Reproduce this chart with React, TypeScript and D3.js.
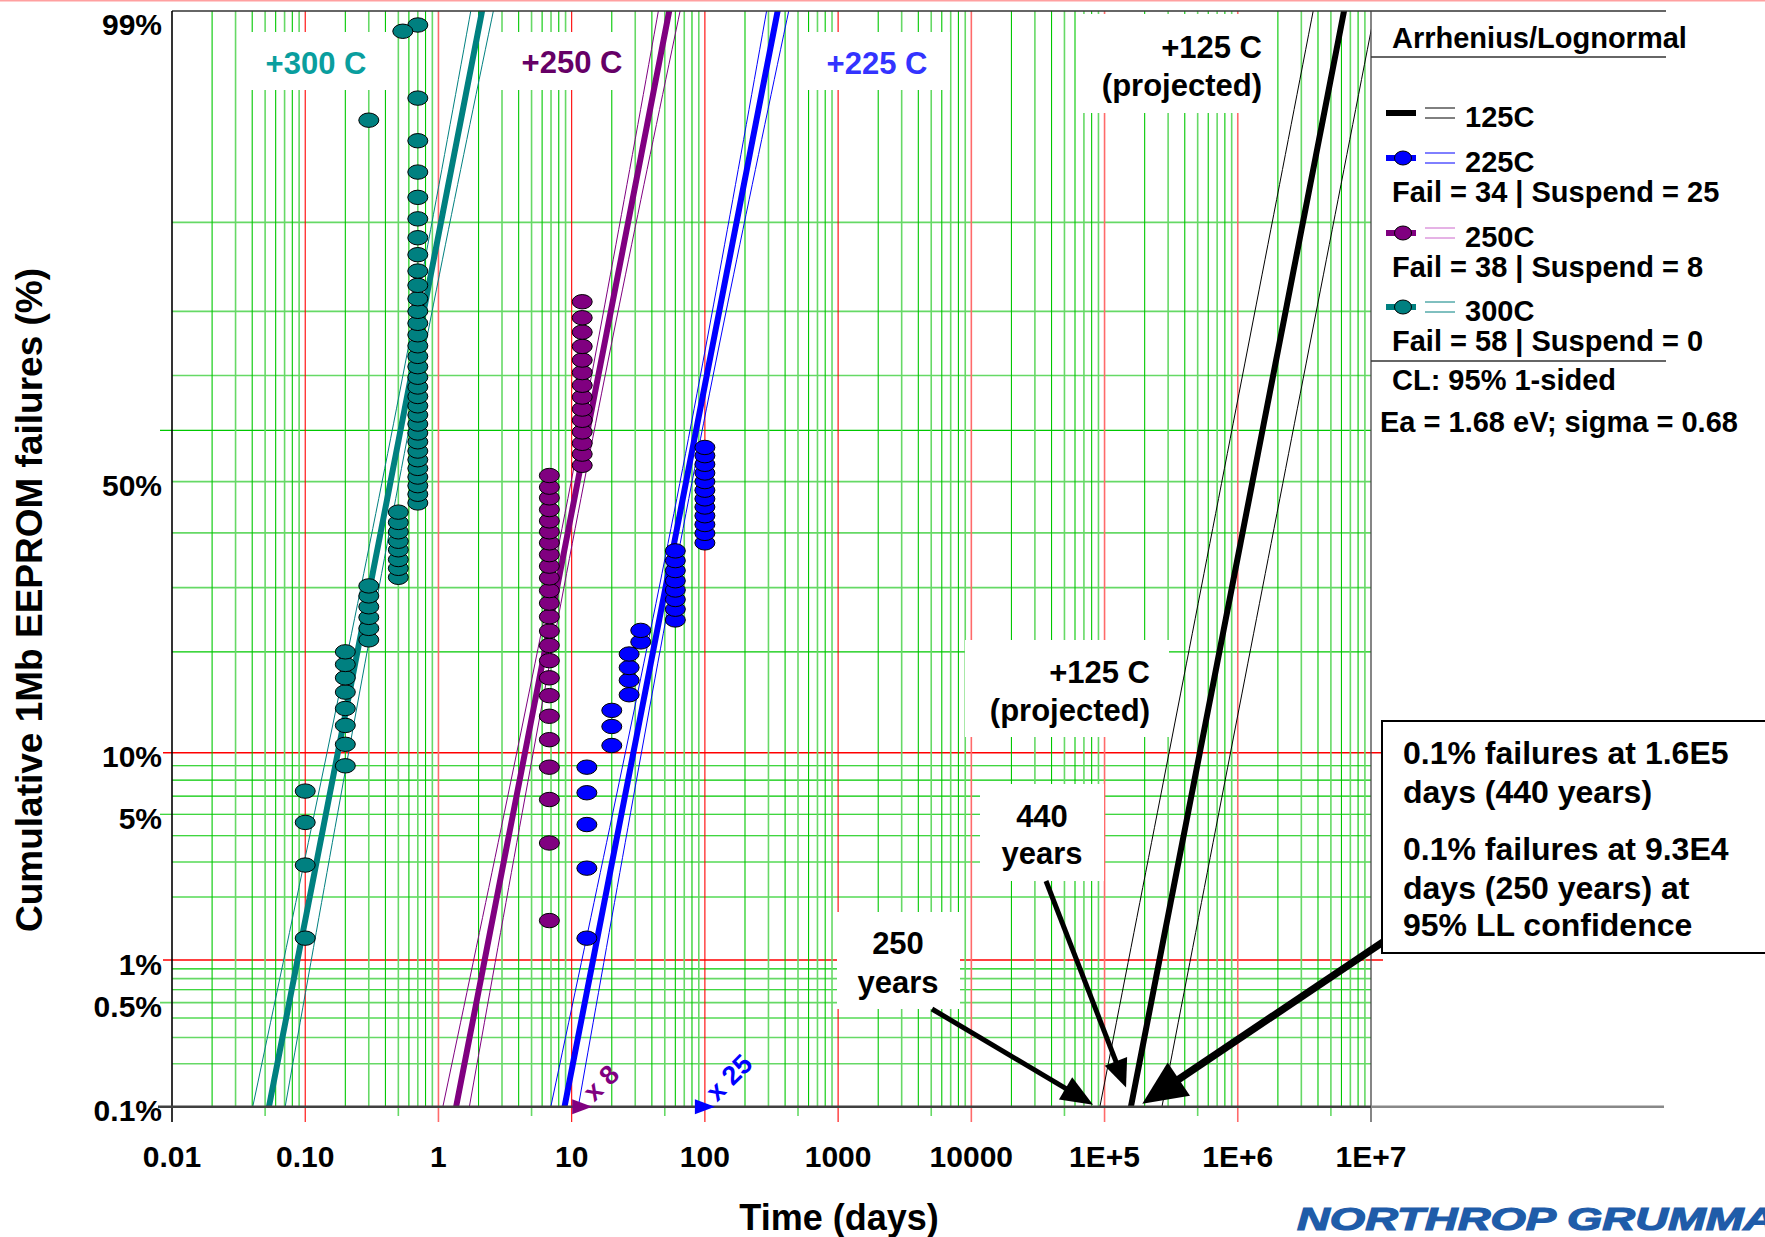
import React from 'react'
import * as d3 from 'd3'

const FONT = 'Arial, "Liberation Sans", Helvetica, sans-serif'

// axis ticks
const xTickValues = [0.01, 0.1, 1, 10, 100, 1000, 10000, 1e5, 1e6, 1e7]
const xTickLabels = ['0.01', '0.10', '1', '10', '100', '1000', '10000', '1E+5', '1E+6', '1E+7']
// on this paper the "10%" and "1%" labels sit on the red rules, which fall at 9% and 0.9%
const yTickValues = [99, 50, 9, 5, 0.9, 0.5, 0.1]
const yTickLabels = ['99%', '50%', '10%', '5%', '1%', '0.5%', '0.1%']
const gridBright = [60, 20, 8, 7, 6, 5, 4, 3, 2, 0.8, 0.6, 0.4]
const gridLight = [90, 80, 70, 50, 40, 30, 0.7, 0.5, 0.3, 0.2]
const gridRed = [9, 0.9]
const gridLong = [60, 9, 5, 0.9, 0.5]

// failures: [days, cumulative % failed]
const pts300: [number, number][] = [
  [0.1, 1.2], [0.1, 2.9], [0.1, 4.6], [0.1, 6.3],
  [0.2, 8.0], [0.2, 9.7], [0.2, 11.4], [0.2, 13.1], [0.2, 14.9], [0.2, 16.6], [0.2, 18.3], [0.2, 20.0],
  [0.3, 21.7], [0.3, 23.4], [0.3, 25.1], [0.3, 26.8], [0.3, 28.6], [0.3, 30.3],
  [0.5, 31.8], [0.5, 33.4], [0.5, 35.0], [0.5, 36.8], [0.5, 38.4], [0.5, 40.2], [0.5, 42.0], [0.5, 44.0],
  [0.7, 45.8], [0.7, 47.5], [0.7, 49.2], [0.7, 50.9], [0.7, 52.6], [0.7, 54.3], [0.7, 56.0], [0.7, 57.8],
  [0.7, 59.5], [0.7, 61.2], [0.7, 62.9], [0.7, 64.6], [0.7, 66.3], [0.7, 68.0], [0.7, 69.7], [0.7, 71.5],
  [0.7, 73.2], [0.7, 74.9], [0.7, 76.6], [0.7, 78.3], [0.7, 80.0], [0.7, 81.7], [0.7, 83.4], [0.7, 85.1],
  [0.7, 86.9], [0.7, 88.6], [0.7, 90.3], [0.7, 92.0], [0.7, 93.7], [0.7, 95.4], [0.7, 97.1], [0.7, 98.8],
  [0.3, 96.3], [0.54, 98.7],
]
const pts250: [number, number][] = [
  [6.8, 1.5], [6.8, 3.7], [6.8, 5.8], [6.8, 7.9], [6.8, 10.1], [6.8, 12.3], [6.8, 14.5], [6.8, 16.6],
  [6.8, 18.8], [6.8, 20.9], [6.8, 23.0], [6.8, 25.2], [6.8, 27.4], [6.8, 29.5], [6.8, 31.7], [6.8, 33.8],
  [6.8, 35.9], [6.8, 38.1], [6.8, 40.2], [6.8, 42.3], [6.8, 44.5], [6.8, 46.8], [6.8, 48.9], [6.8, 51.2],
  [12, 53.2], [12, 55.4], [12, 57.5], [12, 59.7], [12, 61.9], [12, 64.0], [12, 66.2], [12, 68.3],
  [12, 70.5], [12, 72.6], [12, 74.8], [12, 77.0], [12, 79.1], [12, 81.3],
]
const pts225: [number, number][] = [
  [13, 1.2], [13, 2.8], [13, 4.5], [13, 6.2], [13, 7.9],
  [20, 9.6], [20, 11.3], [20, 12.9],
  [27, 14.6], [27, 16.3], [27, 17.9], [27, 19.7],
  [33, 21.4], [33, 23.1],
  [60, 24.7], [60, 26.4], [60, 28.0], [60, 29.6], [60, 31.2], [60, 33.0], [60, 34.8], [60, 36.6],
  [100, 38.1], [100, 39.9], [100, 41.6], [100, 43.3], [100, 45.0], [100, 46.6], [100, 48.3], [100, 50.0],
  [100, 51.7], [100, 53.4], [100, 55.1], [100, 56.7],
]

// suspended units (days, label)
const suspDays = [12, 100]
const suspLabels = ['x 8', 'x 25']
const suspColors = ['#800080', '#0000ff']

// lognormal fits: median life (days), sigma (ln), 95% band half-width (decades)
const fitTemps = ['125C', '225C', '250C', '300C']
const fitMedian = [1.29e6, 72.3, 11.1, 0.437]
const fitSigma = 0.68
const bandHalf = [0.23, 0.045, 0.049, 0.062]
const bandGrow = [0.012, 0.03, 0.028, 0.03]
const bandCentre = [0, 0, 0, 0.4]
const fitColor = ['#000000', '#0000ff', '#800080', '#008080']
const legendBand = ['#000000', '#0000ff', '#cc66cc', '#008080']
const legendCounts = ['', 'Fail = 34 | Suspend = 25', 'Fail = 38 | Suspend = 8', 'Fail = 58 | Suspend = 0']

const noteLines = ['0.1% failures at 1.6E5', 'days (440 years)', '0.1% failures at 9.3E4', 'days (250 years) at', '95% LL confidence']

// inverse normal CDF (Acklam)
function probit(p: number) {
  const a = [-39.69683028665376, 220.9460984245205, -275.9285104469687, 138.357751867269, -30.66479806614716, 2.506628277459239]
  const b = [-54.47609879822406, 161.5858368580409, -155.6989798598866, 66.80131188771972, -13.28068155288572]
  const c = [-0.007784894002430293, -0.3223964580411365, -2.400758277161838, -2.549732539343734, 4.374664141464968, 2.938163982698783]
  const d = [0.007784695709041462, 0.3224671290700398, 2.445134137142996, 3.754408661907416]
  const lo = 0.02425
  if (p < lo) {
    const q = Math.sqrt(-2 * Math.log(p))
    return (((((c[0] * q + c[1]) * q + c[2]) * q + c[3]) * q + c[4]) * q + c[5]) / ((((d[0] * q + d[1]) * q + d[2]) * q + d[3]) * q + 1)
  }
  if (p > 1 - lo) {
    const q = Math.sqrt(-2 * Math.log(1 - p))
    return -(((((c[0] * q + c[1]) * q + c[2]) * q + c[3]) * q + c[4]) * q + c[5]) / ((((d[0] * q + d[1]) * q + d[2]) * q + d[3]) * q + 1)
  }
  const q = p - 0.5
  const r = q * q
  return ((((((a[0] * r + a[1]) * r + a[2]) * r + a[3]) * r + a[4]) * r + a[5]) * q) / (((((b[0] * r + b[1]) * r + b[2]) * r + b[3]) * r + b[4]) * r + 1)
}

const W = 1765
const H = 1237
const plot = { left: 172, right: 1371, top: 11, bottom: 1106.7 }

const x = d3.scaleLog().domain([0.01, 1e7]).range([plot.left, plot.right])
const zy = d3.scaleLinear().domain([probit(0.001), probit(0.99)]).range([plot.bottom, plot.top])
const y = (pct: number) => zy(probit(pct / 100))

const line = d3
  .line<[number, number]>()
  .x((d) => x(d[0]))
  .y((d) => zy(d[1]))

const zLo = probit(0.001) - 0.1
const zHi = probit(0.99) + 0.4
const zSteps = d3.range(0, 81).map((i) => zLo + ((zHi - zLo) * i) / 80)

const fitPath = (k: number, side: number) =>
  line(
    zSteps.map((z) => {
      const centre = Math.log10(fitMedian[k]) + (z * fitSigma) / Math.LN10
      const hw = Math.sqrt(bandHalf[k] ** 2 + (bandGrow[k] * (z - bandCentre[k])) ** 2)
      return [10 ** (centre + side * hw), z] as [number, number]
    })
  )

// vertical grid: 1..9 per decade
const vGrid = d3.range(-2, 7).flatMap((e) => d3.range(1, 10).map((m) => ({ v: m * 10 ** e, m })))

const Arrow = ({ x1, y1, x2, y2, w, hl, hw }) => {
  const a = Math.atan2(y2 - y1, x2 - x1)
  const bx = x2 - hl * Math.cos(a)
  const by = y2 - hl * Math.sin(a)
  const px = (-Math.sin(a) * hw) / 2
  const py = (Math.cos(a) * hw) / 2
  return (
    <g>
      <line x1={x1} y1={y1} x2={bx + Math.cos(a) * 2} y2={by + Math.sin(a) * 2} stroke='#000' strokeWidth={w} />
      <polygon points={`${x2},${y2} ${bx + px},${by + py} ${bx - px},${by - py}`} fill='#000' />
    </g>
  )
}

const series = [
  { pts: pts225, color: '#0000ff' },
  { pts: pts250, color: '#800080' },
  { pts: pts300, color: '#008080' },
]

const labelBoxes = [
  { x: 244, y: 32, w: 151, h: 58 },
  { x: 495, y: 32, w: 133, h: 58 },
  { x: 800, y: 32, w: 150, h: 58 },
  { x: 1078, y: 14, w: 194, h: 99 },
  { x: 965, y: 640, w: 204, h: 97 },
  { x: 980, y: 784, w: 124, h: 97 },
  { x: 837, y: 912, w: 123, h: 97 },
]

export default function App() {
  const legendY = [113, 158, 233, 307]
  const bold = { fontFamily: FONT, fontWeight: 700 }
  return (
    <svg width={W} height={H} style={{ position: 'absolute', left: 0, top: 0, display: 'block', background: '#fff' }}>
      <rect width={W} height={H} fill='#fff' />
      <rect x={0} y={0} width={W} height={1.5} fill='#ffa0a0' />
      <defs>
        <clipPath id='plotClip'>
          <rect x={plot.left} y={plot.top} width={plot.right - plot.left} height={plot.bottom - plot.top} />
        </clipPath>
      </defs>

      {/* horizontal grid */}
      {gridLight.map((p) => (
        <line key={'hl' + p} x1={gridLong.includes(p) ? 160 : plot.left} x2={plot.right} y1={y(p)} y2={y(p)} stroke='#66d966' strokeWidth={1.6} />
      ))}
      {gridBright.map((p) => (
        <line key={'hb' + p} x1={gridLong.includes(p) ? 160 : plot.left} x2={plot.right} y1={y(p)} y2={y(p)} stroke='#00c800' strokeWidth={1.1} />
      ))}
      {gridRed.map((p) => (
        <line key={'hr' + p} x1={163} x2={1383} y1={y(p)} y2={y(p)} stroke='#ff0000' strokeWidth={1.5} />
      ))}

      {/* vertical grid */}
      {vGrid.map(({ v, m }) =>
        m === 1 ? null : (
          <line
            key={'v' + v}
            x1={x(v)}
            x2={x(v)}
            y1={plot.top}
            y2={m === 5 ? 1116 : plot.bottom}
            stroke={m % 2 === 0 ? '#00c800' : '#66d966'}
            strokeWidth={m % 2 === 0 ? 1.1 : 1.6}
          />
        )
      )}
      {xTickValues.slice(1, -1).map((v, i) => (
        <line
          key={'vr' + v}
          x1={x(v)}
          x2={x(v)}
          y1={plot.top}
          y2={1122}
          stroke={[0, 2, 3, 4].includes(i) ? '#ff0000' : '#ff6a6a'}
          strokeWidth={[0, 2, 3, 4].includes(i) ? 1.1 : 1.6}
        />
      ))}

      {/* white label boxes over the grid */}
      {labelBoxes.map((b, i) => (
        <rect key={'lb' + i} x={b.x} y={b.y} width={b.w} height={b.h} fill='#fff' />
      ))}

      {/* fitted lines with confidence bands */}
      <g clipPath='url(#plotClip)'>
        {fitTemps.map((t, k) => (
          <g key={t}>
            <path d={fitPath(k, -1)} fill='none' stroke={fitColor[k]} strokeWidth={1} />
            <path d={fitPath(k, 1)} fill='none' stroke={fitColor[k]} strokeWidth={1} />
            <path d={fitPath(k, 0)} fill='none' stroke={fitColor[k]} strokeWidth={6} />
          </g>
        ))}
      </g>

      {/* failure points */}
      {series.map((s, si) => (
        <g key={si}>
          {s.pts.map(([t, p], i) => (
            <ellipse key={i} cx={x(t)} cy={y(p)} rx={10} ry={7.2} fill={s.color} stroke='#000' strokeWidth={1} />
          ))}
        </g>
      ))}

      {/* frame */}
      <line x1={plot.left} x2={1666} y1={plot.top} y2={plot.top} stroke='#333' strokeWidth={1.5} />
      <line x1={plot.left} x2={plot.left} y1={plot.top} y2={1122} stroke='#000' strokeWidth={1.6} />
      <line x1={plot.right} x2={plot.right} y1={plot.top} y2={1122} stroke='#444' strokeWidth={1.3} />
      <line x1={158} x2={plot.right} y1={plot.bottom} y2={plot.bottom} stroke='#404040' strokeWidth={2.6} />
      <line x1={plot.right} x2={1664} y1={plot.bottom} y2={plot.bottom} stroke='#888' strokeWidth={2.6} />

      {/* suspensions */}
      {suspDays.map((d, i) => {
        const cx = x(d)
        const cy = plot.bottom
        return (
          <g key={'s' + i}>
            <polygon points={`${cx - 10},${cy - 7.5} ${cx - 10},${cy + 7.5} ${cx + 10},${cy}`} fill={suspColors[i]} />
            <text transform={`translate(${cx + 12},${cy - 4}) rotate(-45)`} fontSize={27} fill={suspColors[i]} {...bold}>
              {suspLabels[i]}
            </text>
          </g>
        )
      })}

      {/* in-plot labels */}
      <g {...bold} fontSize={31} dominantBaseline='central'>
        <text x={316} y={63} textAnchor='middle' fill='#0a9e9e'>+300 C</text>
        <text x={572} y={62} textAnchor='middle' fill='#660066'>+250 C</text>
        <text x={877} y={63} textAnchor='middle' fill='#3333ff'>+225 C</text>
        <text x={1262} y={47} textAnchor='end' fill='#000'>+125 C</text>
        <text x={1262} y={85} textAnchor='end' fill='#000'>(projected)</text>
        <text x={1150} y={672} textAnchor='end' fill='#000'>+125 C</text>
        <text x={1150} y={710} textAnchor='end' fill='#000'>(projected)</text>
        <text x={1042} y={816} textAnchor='middle' fill='#000'>440</text>
        <text x={1042} y={853} textAnchor='middle' fill='#000'>years</text>
        <text x={898} y={943} textAnchor='middle' fill='#000'>250</text>
        <text x={898} y={982} textAnchor='middle' fill='#000'>years</text>
      </g>

      {/* arrows */}
      <Arrow x1={932} y1={1009} x2={x(8.2e4)} y2={y(0.1) - 2} w={5} hl={32} hw={26} />
      <Arrow x1={1046} y1={881} x2={x(1.45e5)} y2={y(0.137)} w={5} hl={28} hw={24} />
      <Arrow x1={1383} y1={942} x2={x(1.92e5)} y2={y(0.105)} w={7.5} hl={44} hw={40} />

      {/* callout */}
      <rect x={1382} y={721} width={400} height={232} fill='#fff' stroke='#000' strokeWidth={2} />
      <g {...bold} fontSize={32} dominantBaseline='central'>
        {noteLines.map((t, i) => (
          <text key={i} x={1403} y={[753, 792, 849, 888, 925][i]}>
            {t}
          </text>
        ))}
      </g>

      {/* legend */}
      <g {...bold} fontSize={29} dominantBaseline='central'>
        <text x={1392} y={38}>Arrhenius/Lognormal</text>
        <line x1={plot.right} x2={1666} y1={57} y2={57} stroke='#333' strokeWidth={1.3} />
        {fitTemps.map((t, k) => {
          const ly = legendY[k]
          return (
            <g key={t}>
              <line x1={1386} x2={1416} y1={ly} y2={ly} stroke={fitColor[k]} strokeWidth={6} />
              {k > 0 && <ellipse cx={1403} cy={ly} rx={8.5} ry={7} fill={fitColor[k]} stroke='#000' strokeWidth={1} />}
              <line x1={1425} x2={1455} y1={ly - 5} y2={ly - 5} stroke={legendBand[k]} strokeWidth={1} />
              <line x1={1425} x2={1455} y1={ly + 5} y2={ly + 5} stroke={legendBand[k]} strokeWidth={1} />
              <text x={1465} y={ly + 4}>{t}</text>
              {legendCounts[k] && (
                <text x={1392} y={ly + 34}>
                  {legendCounts[k]}
                </text>
              )}
            </g>
          )
        })}
        <line x1={plot.right} x2={1666} y1={361} y2={361} stroke='#333' strokeWidth={1.3} />
        <text x={1392} y={380}>CL: 95% 1-sided</text>
        <text x={1380} y={422}>Ea = 1.68 eV; sigma = 0.68</text>
      </g>

      {/* axes text */}
      <g {...bold} fontSize={30} dominantBaseline='central'>
        {xTickValues.map((v, i) => (
          <text key={'xt' + i} x={x(v)} y={1156} textAnchor='middle'>
            {xTickLabels[i]}
          </text>
        ))}
        {yTickValues.map((p, i) => (
          <text key={'yt' + i} x={162} y={Math.max(y(p) + 4, 24)} textAnchor='end'>
            {yTickLabels[i]}
          </text>
        ))}
      </g>
      <text x={839} y={1217} textAnchor='middle' dominantBaseline='central' fontSize={36} {...bold}>
        Time (days)
      </text>
      <text transform='translate(29,600) rotate(-90)' textAnchor='middle' dominantBaseline='central' fontSize={37} {...bold}>
        Cumulative 1Mb EEPROM failures (%)
      </text>

      {/* logo, cut by the right edge as in the original slide */}
      <text
        transform='translate(1297,1230) scale(1.42,1)'
        fontSize={32}
        fontStyle='italic'
        fontWeight={900}
        fontFamily={FONT}
        fill='#1f5ca9'
        stroke='#1f5ca9'
        strokeWidth={1.2}
      >
        NORTHROP GRUMMAN
      </text>
    </svg>
  )
}
